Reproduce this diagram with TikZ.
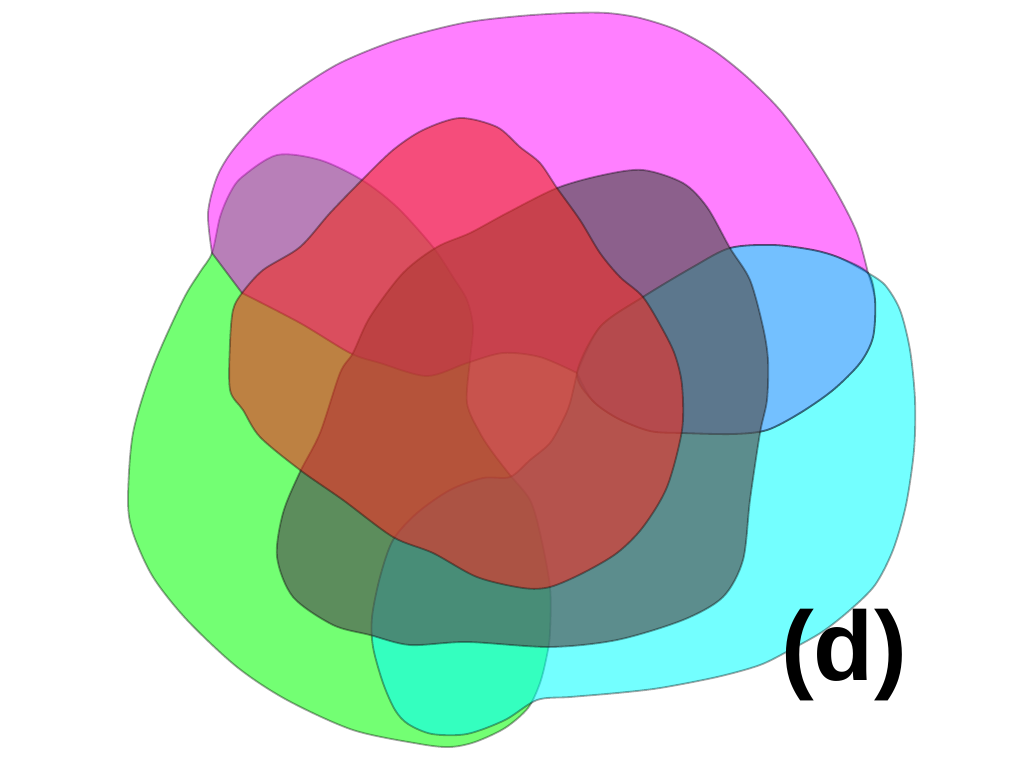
\documentclass[tikz,border=0pt]{standalone}
\usepackage{fontspec}
\setmainfont{Liberation Sans}
\usepackage{tikz}
\usetikzlibrary{positioning}

\definecolor{setgreen}{RGB}{0,255,0}
\definecolor{setmagenta}{RGB}{255,0,255}
\definecolor{setcyan}{RGB}{0,255,255}
\definecolor{setblue}{RGB}{0,140,255}
\definecolor{setdark}{RGB}{82,82,82}
\definecolor{setred}{RGB}{240,45,35}

\begin{document}
\begin{tikzpicture}[x=0.025cm, y=-0.025cm,
    blob/.style={draw=black, draw opacity=.35, line width=1.3pt, line join=round},
    greenset/.style={blob, fill=setgreen, fill opacity=.55},
    magentaset/.style={blob, fill=setmagenta, fill opacity=.5},
    cyanset/.style={blob, fill=setcyan, fill opacity=.55},
    blueset/.style={blob, fill=setblue, fill opacity=.55},
    darkset/.style={blob, fill=setdark, fill opacity=.66},
    redset/.style={blob, fill=setred, fill opacity=.6}]
    \useasboundingbox (0,0) rectangle (1024,768);

    % green set
    \path[greenset] plot[smooth cycle, tension=.5] coordinates {(212,253) (220,217) (230,193) (242,177) (277,155) (320,160) (362,180) (397,207) (433,247) (453,277) (467,300) (473,327) (470,360) (467,403) (480,433) (493,453) (510,475) (530,500) (540,533) (550,587) (550,633) (547,655) (540,683) (528,708) (505,728) (475,742) (450,747) (420,744) (353,730) (287,700) (237,667) (187,620) (153,577) (133,533) (128,500) (133,433) (153,367) (183,300) (200,272)};

    % magenta set
    \path[magentaset] plot[smooth, tension=.5] coordinates {(212,253) (208,213) (217,177) (233,150) (263,117) (297,90) (340,63) (397,40) (463,23) (520,16) (570,13) (607,13) (640,18) (677,30) (713,50) (747,77) (780,110) (810,150) (837,193) (857,233) (868,273)}
        -- plot[smooth, tension=.5] coordinates {(868,273) (840,258) (813,250) (773,245) (730,248) (693,267) (643,297) (600,327) (577,373)}
        -- plot[smooth, tension=.5] coordinates {(577,373) (540,357) (503,353) (467,363) (427,376) (380,363) (350,353) (300,323) (242,293)}
        -- cycle;

    % cyan set
    \path[cyanset] plot[smooth, tension=.5] coordinates {(868,273) (885,285) (900,310) (910,350) (915,400) (914,450) (906,505) (893,550) (875,585) (850,610) (822,632) (790,650) (760,665) (717,677) (660,688) (617,693) (570,697) (537,700) (505,720) (467,734) (432,734) (408,724) (395,710) (383,683) (373,647) (372,617) (380,577) (393,540) (417,513) (450,490) (483,478) (510,477) (530,460) (550,443) (563,420) (570,403) (577,373)}
        -- plot[smooth, tension=.5] coordinates {(577,373) (592,400) (617,418) (650,431) (683,433) (733,434) (767,430) (800,413) (833,390) (860,363) (873,337) (875,300) (868,273)}
        -- cycle;

    % blue set
    \path[blueset] plot[smooth cycle, tension=.5] coordinates {(577,373) (600,327) (643,297) (693,267) (730,248) (773,245) (813,250) (840,258) (868,273) (875,300) (873,337) (860,363) (833,390) (800,413) (767,430) (733,434) (683,433) (650,431) (617,418) (592,400)};

    % dark set
    \path[darkset] plot[smooth cycle, tension=.5] coordinates {(437,247) (470,233) (507,213) (557,188) (603,175) (643,170) (683,183) (707,207) (730,248) (750,280) (763,327) (768,360) (767,400) (760,433) (750,500) (743,560) (723,597) (683,620) (617,640) (550,647) (467,642) (410,645) (370,635) (333,625) (293,597) (277,557) (283,513) (300,472) (320,433) (340,373) (353,353) (370,317) (403,273)};

    % red set
    \path[redset] plot[smooth cycle, tension=.5] coordinates {(362,180) (393,150) (423,130) (460,118) (497,127) (520,147) (540,163) (557,188) (580,220) (600,253) (620,277) (643,297) (663,330) (675,355) (682,385) (682,430) (667,487) (643,527) (617,553) (583,573) (550,587) (523,588) (477,577) (433,553) (393,537) (343,500) (300,470) (260,437) (243,410) (230,390) (230,343) (233,310) (242,293) (263,270) (300,247) (330,213)};

    \node (lbl) [anchor=base, inner sep=0pt, font=\fontsize{70}{70}\selectfont\bfseries] at (844,680) {(d)};
\end{tikzpicture}
\end{document}
